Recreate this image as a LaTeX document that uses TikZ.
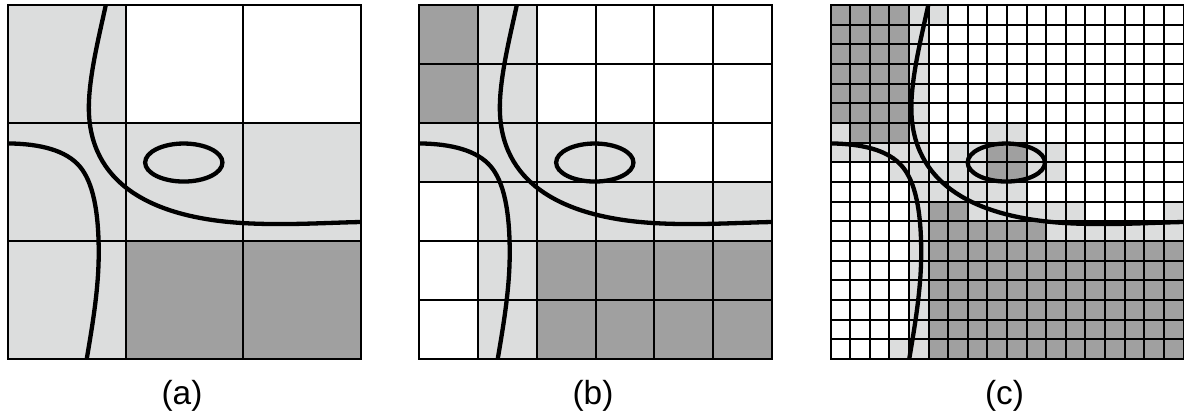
\documentclass[tikz,border=0pt]{standalone}
\usepackage{fontspec}
\setmainfont{Liberation Sans}
\definecolor{cD}{HTML}{A0A0A0}
\definecolor{cL}{HTML}{DCDDDD}
\definecolor{cW}{HTML}{FFFFFF}
\tikzset{
  gridline/.style={line width=2pt, draw=black},
  contour/.style={line width=4.3pt, draw=black},
  caplabel/.style={font=\fontsize{33.4}{40}\selectfont, anchor=base, inner sep=0pt},
}
\newcommand\drawcurves{%
  \draw[contour] (0.277,0) .. controls (0.26,0.08) and (0.229,0.20) .. (0.229,0.29)
    .. controls (0.229,0.50) and (0.40,0.60) .. (0.665,0.616)
    .. controls (0.785,0.623) and (0.9,0.615) .. (1,0.613);
  \draw[contour] (0,0.391) .. controls (0.09,0.392) and (0.165,0.41) .. (0.204,0.457)
    .. controls (0.24,0.50) and (0.257,0.58) .. (0.257,0.70)
    .. controls (0.257,0.80) and (0.24,0.90) .. (0.223,1);
  \draw[contour] (0.498,0.445) ellipse [x radius=0.1095, y radius=0.0537];
}
\newcommand\drawpanel[3]{%
  \begin{scope}[shift={(#1,5)}, x=353pt, y=-354pt]
    \foreach \row [count=\r from 0] in {#3} {
      \foreach \t [count=\c from 0] in \row {
        \fill[c\t] (\c/#2,\r/#2) rectangle ({(\c+1)/#2},{(\r+1)/#2});
      }
    }
    \foreach \i in {1,...,#2} {
      \draw[gridline] ({(\i-1)/#2},0) -- ({(\i-1)/#2},1);
      \draw[gridline] (0,{(\i-1)/#2}) -- (1,{(\i-1)/#2});
    }
    \draw[gridline] (0,0) rectangle (1,1);
    \drawcurves
  \end{scope}}
\begin{document}
\begin{tikzpicture}[x=1pt, y=-1pt]
\useasboundingbox (0,0) rectangle (1184,418);
\drawpanel{8}{3}{{L,W,W},{L,L,L},{L,D,D}}
\drawpanel{419}{6}{{D,L,W,W,W,W},{D,L,W,W,W,W},{L,L,L,L,W,W},{W,L,L,L,L,L},{W,L,D,D,D,D},{W,L,D,D,D,D}}
\drawpanel{830.5}{18}{%
{D,D,D,D,L,L,W,W,W,W,W,W,W,W,W,W,W,W},
{D,D,D,D,L,W,W,W,W,W,W,W,W,W,W,W,W,W},
{D,D,D,D,L,W,W,W,W,W,W,W,W,W,W,W,W,W},
{D,D,D,D,L,W,W,W,W,W,W,W,W,W,W,W,W,W},
{D,D,D,D,L,W,W,W,W,W,W,W,W,W,W,W,W,W},
{D,D,D,D,L,W,W,W,W,W,W,W,W,W,W,W,W,W},
{L,D,D,D,L,W,W,W,L,L,W,W,W,W,W,W,W,W},
{L,L,L,L,L,W,L,L,D,D,L,L,W,W,W,W,W,W},
{W,W,W,L,L,L,L,L,D,D,L,L,W,W,W,W,W,W},
{W,W,W,W,L,L,L,L,L,L,W,W,W,W,W,W,W,W},
{W,W,W,W,L,D,D,L,L,L,L,L,L,W,W,W,W,L},
{W,W,W,W,L,D,D,D,D,D,D,L,L,L,L,L,L,L},
{W,W,W,W,L,D,D,D,D,D,D,D,D,D,D,D,D,D},
{W,W,W,W,L,D,D,D,D,D,D,D,D,D,D,D,D,D},
{W,W,W,W,L,D,D,D,D,D,D,D,D,D,D,D,D,D},
{W,W,W,W,L,D,D,D,D,D,D,D,D,D,D,D,D,D},
{W,W,W,W,L,D,D,D,D,D,D,D,D,D,D,D,D,D},
{W,W,W,L,L,D,D,D,D,D,D,D,D,D,D,D,D,D}}
\node[caplabel] (la) at (182,404.6) {(a)};
\node[caplabel] (lb) at (593,404.6) {(b)};
\node[caplabel] (lc) at (1004.5,404.6) {(c)};
\end{tikzpicture}
\end{document}
